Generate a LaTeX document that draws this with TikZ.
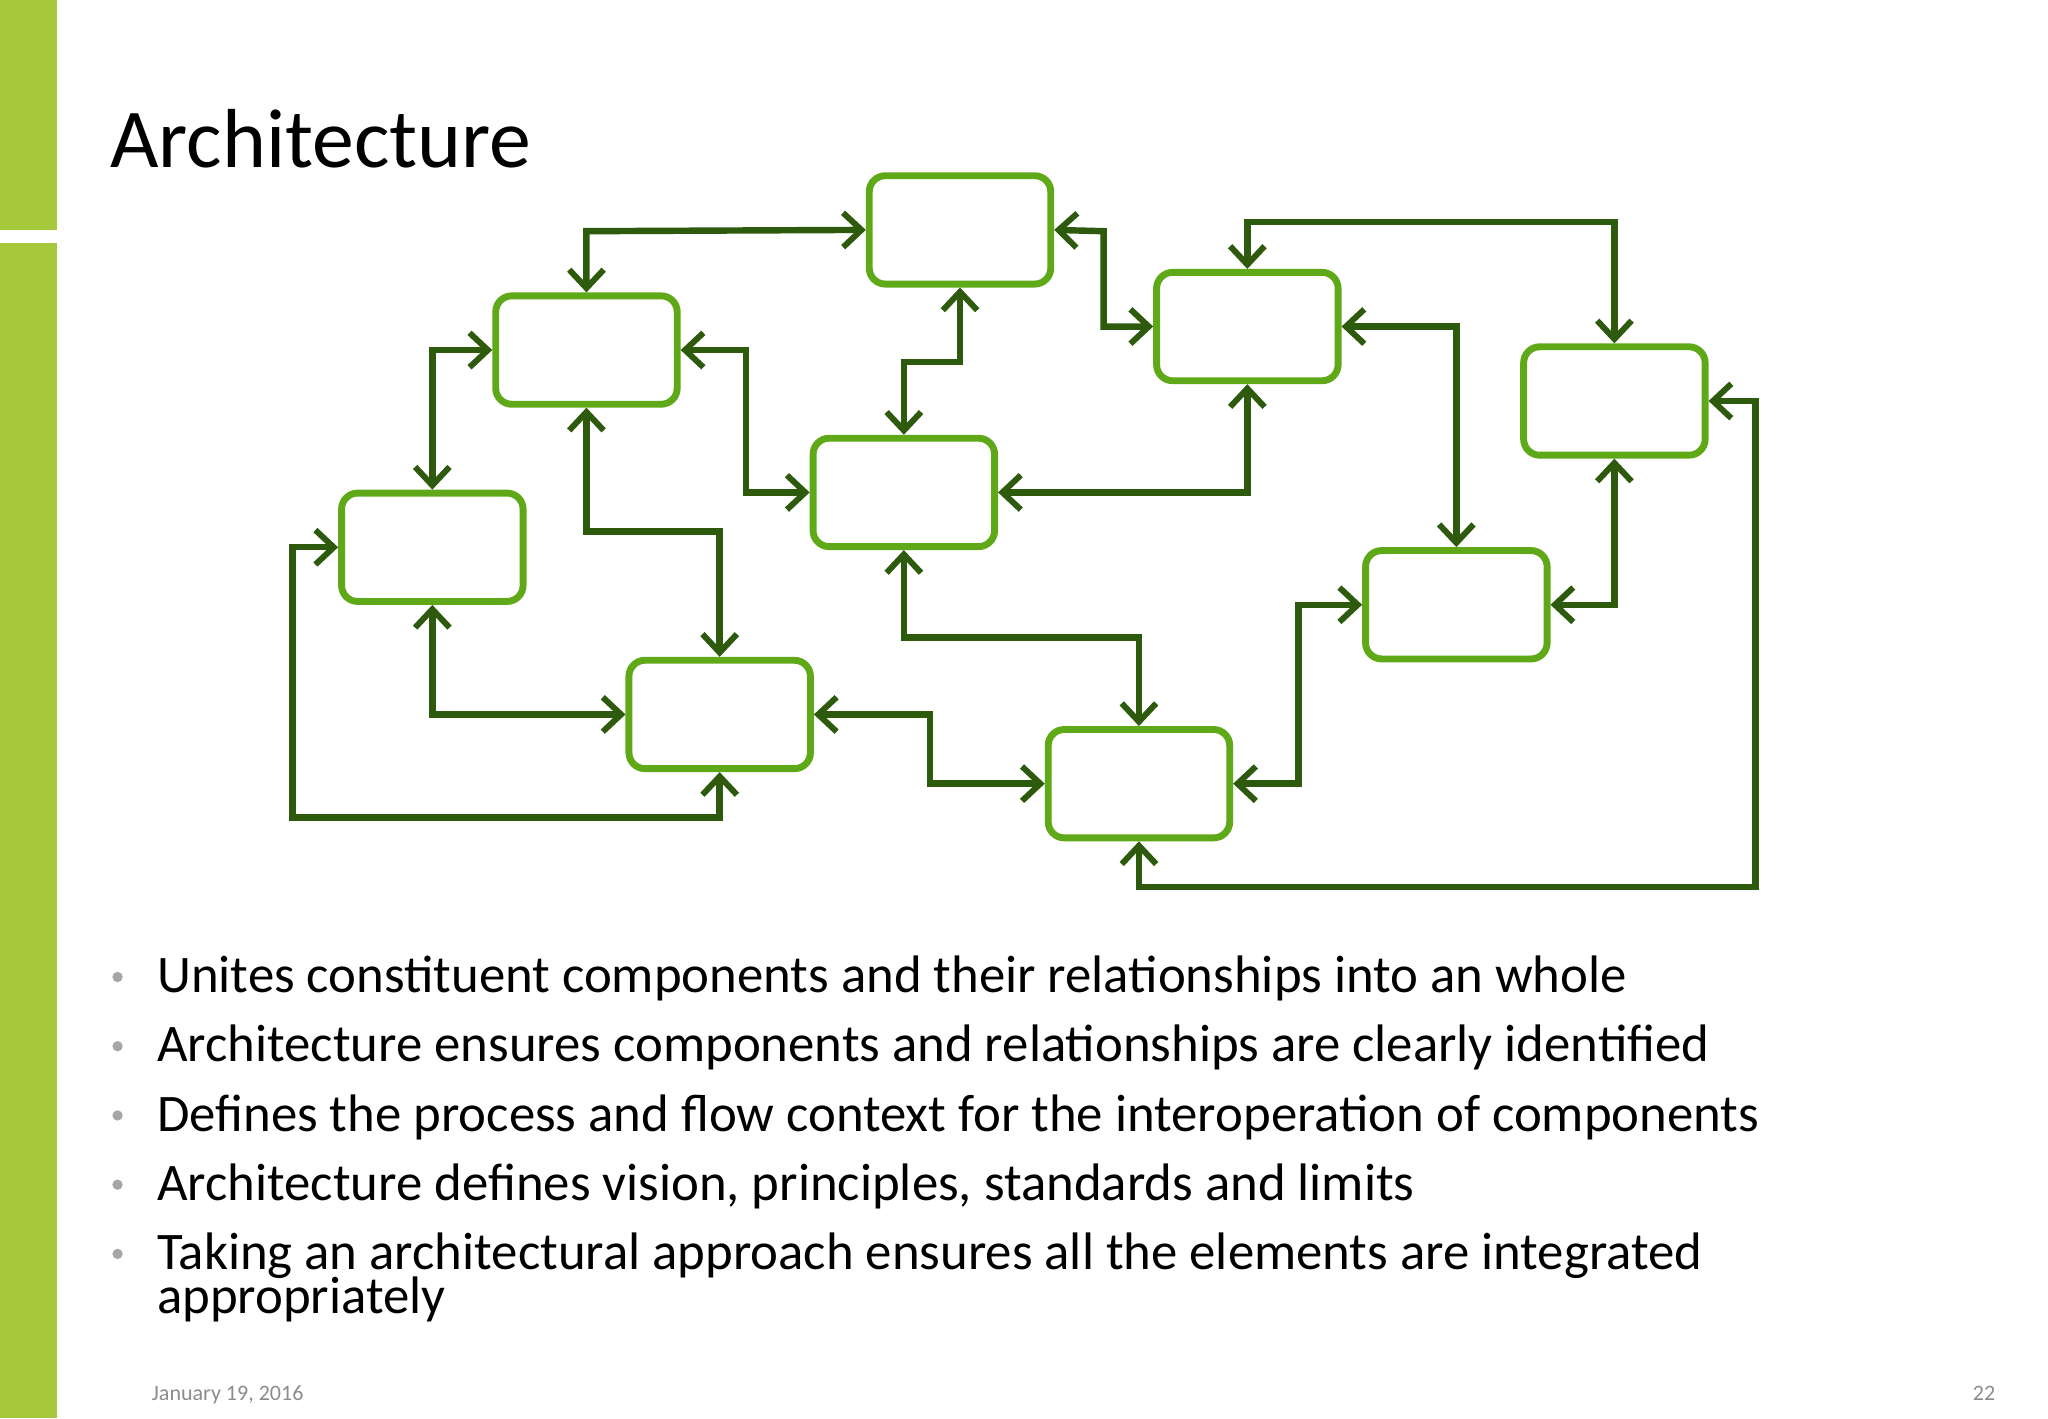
\documentclass[tikz,border=0pt]{standalone}
\usepackage{fontspec}
\setmainfont{Carlito}
\usetikzlibrary{arrows.meta}
\definecolor{barg}{HTML}{A5C93A}
\definecolor{boxg}{HTML}{5FA818}
\definecolor{arrg}{HTML}{2E5A0E}
\definecolor{bul}{HTML}{A6A6A6}
\definecolor{foot}{HTML}{8C8C8C}
\begin{document}
\begin{tikzpicture}[x=0.02cm,y=-0.02cm,
  comp/.style={draw=boxg,line width=3pt,rounded corners=7pt,minimum width=2.78cm,minimum height=1.66cm,inner sep=0pt},
  link/.style={draw=arrg,line width=2.8pt,{Straight Barb[length=8pt,width=15pt,line width=2.6pt]}-{Straight Barb[length=8pt,width=15pt,line width=2.6pt]}},
  btxt/.style={anchor=base west,inner sep=0pt,font=\fontsize{23}{19}\selectfont},
  dot/.style={circle,fill=bul,inner sep=0pt,minimum size=4.5pt}]
\useasboundingbox (0,0) rectangle (1568,1086);
\fill[white] (0,0) rectangle (1568,1086);
\fill[barg] (0,0) rectangle (44,176);
\fill[barg] (0,186) rectangle (44,1086);
\node[anchor=base west,inner sep=0pt,font=\fontsize{36.5}{40}\selectfont] (title) at (84,128) {Architecture};
\node[comp] (A) at (735,176) {};
\node[comp] (B) at (449,268) {};
\node[comp] (C) at (955,250) {};
\node[comp] (D) at (1236,307) {};
\node[comp] (E) at (692,377) {};
\node[comp] (F) at (331,419) {};
\node[comp] (G) at (551,547) {};
\node[comp] (H) at (1115,463) {};
\node[comp] (I) at (872,600) {};
\draw[link] (B.north) -- (449,177) -- (A.west);
\draw[link] (A.east) -- (845,177) -- (845,250) -- (C.west);
\draw[link] (C.north) -- (955,170) -- (1236,170) -- (D.north);
\draw[link] (A.south) -- (735,277) -- (692,277) -- (E.north);
\draw[link] (B.east) -- (571,268) -- (571,377) -- (E.west);
\draw[link] (E.east) -- (955,377) -- (C.south);
\draw[link] (C.east) -- (1115,250) -- (H.north);
\draw[link] (B.west) -- (331,268) -- (F.north);
\draw[link] (B.south) -- (449,407) -- (551,407) -- (G.north);
\draw[link] (F.south) -- (331,547) -- (G.west);
\draw[link] (F.west) -- (224,419) -- (224,626) -- (551,626) -- (G.south);
\draw[link] (G.east) -- (712,547) -- (712,600) -- (I.west);
\draw[link] (E.south) -- (692,488) -- (872,488) -- (I.north);
\draw[link] (H.west) -- (994,463) -- (994,600) -- (I.east);
\draw[link] (D.south) -- (1236,463) -- (H.east);
\draw[link] (D.east) -- (1344,307) -- (1344,679) -- (872,679) -- (I.south);
\foreach \n/\y in {1/748,2/801,3/854,4/907,5/960} \node[dot] (d\n) at (90,\y) {};
\node[btxt] (t1) at (120,760) {Unites constituent components and their relationships into an whole};
\node[btxt] (t2) at (120,813) {Architecture ensures components and relationships are clearly identified};
\node[btxt] (t3) at (120,866) {Defines the process and flow context for the interoperation of components};
\node[btxt] (t4) at (120,919) {Architecture defines vision, principles, standards and limits};
\node[btxt] (t5) at (120,972) {Taking an architectural approach ensures all the elements are integrated};
\node[btxt] (t5b) at (120,1006) {appropriately};
\node[anchor=base west,inner sep=0pt,font=\fontsize{9.6}{10}\selectfont,text=foot] (date) at (116,1072) {January 19, 2016};
\node[anchor=base east,inner sep=0pt,font=\fontsize{9.6}{10}\selectfont,text=foot] (pg) at (1528,1072) {22};
\end{tikzpicture}
\end{document}
